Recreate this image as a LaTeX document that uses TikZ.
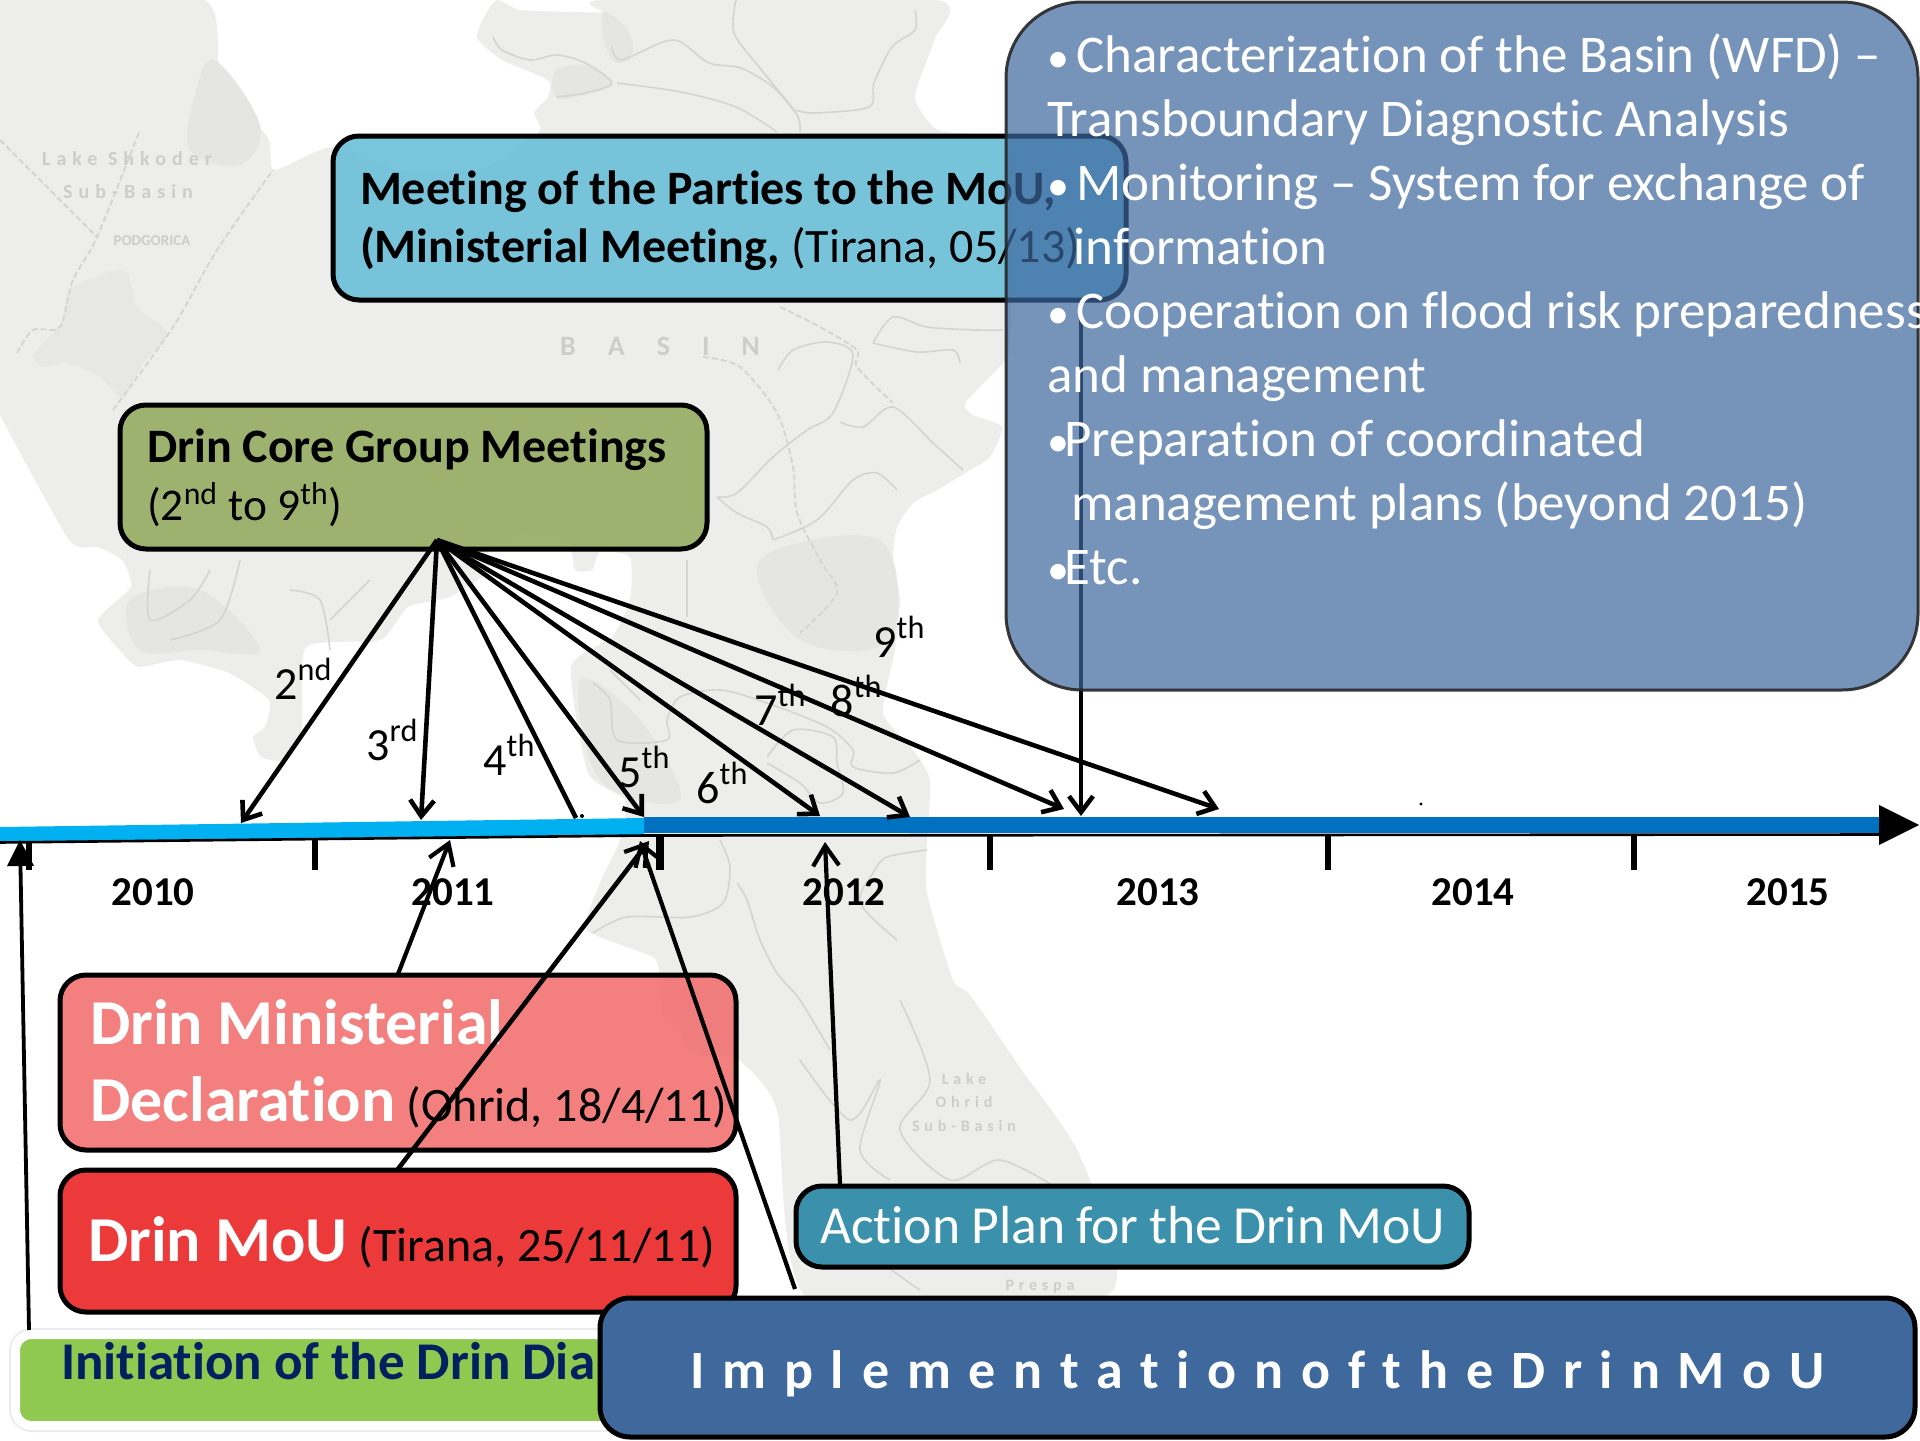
\documentclass[tikz,border=0pt]{standalone}
\usepackage{fontspec}
\setmainfont[Ligatures=CommonOff]{Carlito}
\newfontfamily\mapfont[LetterSpace=30,Ligatures=CommonOff]{Carlito}
\newfontfamily\implfont[LetterSpace=33,Ligatures=CommonOff]{Carlito}
\usetikzlibrary{arrows.meta,calc}
\definecolor{mapland}{HTML}{EDEDEC}
\definecolor{mapdark}{HTML}{E5E5E4}
\definecolor{maplake}{HTML}{E7E7E6}
\definecolor{mapline}{HTML}{D4D4D3}
\definecolor{maptext}{HTML}{CDCDCC}
\definecolor{tlight}{HTML}{00B0F0}
\definecolor{tdark}{HTML}{0070C0}
\definecolor{navy}{HTML}{002060}
\newcommand{\glossy}[4]{\pgfdeclareverticalshading{#1}{100bp}{color(0bp)=(#3); color(3bp)=(#2); color(90bp)=(#2); color(96bp)=(#4); color(100bp)=(#4)}}
\newcommand{\bul}{\makebox[8.5pt][l]{\fontsize{22pt}{32pt}\selectfont •}}
\newcommand{\topstrut}[1]{\rule{0pt}{#1}}
\newcommand{\botstrut}[1]{\rule[-#1]{0pt}{0pt}}
\definecolor{mB}{HTML}{6FC1D9}\definecolor{mD}{HTML}{5AA4BC}\definecolor{mL}{HTML}{8FD8EE}
\definecolor{cB}{HTML}{97AE66}\definecolor{cD}{HTML}{849A58}\definecolor{cL}{HTML}{B8CE8C}
\definecolor{dB}{HTML}{F27272}\definecolor{dD}{HTML}{DE6464}\definecolor{dL}{HTML}{FA9696}
\definecolor{rB}{HTML}{EC3A3B}\definecolor{rD}{HTML}{C92A2A}\definecolor{rL}{HTML}{F85A5A}
\definecolor{aB}{HTML}{3B91AB}\definecolor{aD}{HTML}{2F7A91}\definecolor{aL}{HTML}{62B7D2}
\definecolor{iB}{HTML}{3F689C}\definecolor{iD}{HTML}{345888}\definecolor{iL}{HTML}{5E88BC}
\definecolor{gB}{HTML}{8FC94F}\definecolor{gD}{HTML}{6FA038}\definecolor{gL}{HTML}{A2D866}
\glossy{mshade}{mB}{mD}{mL}
\glossy{cshade}{cB}{cD}{cL}
\glossy{dshade}{dB}{dD}{dL}
\glossy{rshade}{rB}{rD}{rL}
\glossy{ashade}{aB}{aD}{aL}
\glossy{ishade}{iB}{iD}{iL}
\glossy{gshade}{gB}{gD}{gL}
\tikzset{
  panel/.style={shade,draw=black,line width=2.5pt,rounded corners=13pt,inner sep=0pt,text opacity=1,align=flush left,anchor=center},
  yearlabel/.style={font=\fontsize{20.5pt}{24pt}\selectfont\bfseries,anchor=base,inner sep=0pt},
  ordlabel/.style={font=\fontsize{23pt}{26pt}\selectfont,anchor=base west,inner sep=0pt},
  maptxt/.style={font=\mapfont\fontsize{10pt}{12pt}\selectfont\bfseries,text=maptext,inner sep=0pt,anchor=base},
  smallmap/.style={maptxt,font=\mapfont\fontsize{8pt}{10pt}\selectfont\bfseries},
  river/.style={draw=mapline,line width=0.8pt},
  mapborder/.style={draw=mapline,line width=0.9pt,dash pattern=on 3pt off 1.5pt},
  coreline/.style={line width=2.3pt,draw=black,-{Straight Barb[length=8pt,width=12pt,line width=2.3pt]}},
  upline/.style={line width=2.1pt,draw=black,-{Straight Barb[length=10pt,width=13pt,line width=2.1pt]}},
  tick/.style={line width=3pt,draw=black},
}
\begin{document}
\begin{tikzpicture}[x=0.5pt,y=-0.5pt]
\useasboundingbox (0,0) rectangle (1920,1440);
\fill[white] (0,0) rectangle (1920,1440);
% map
\fill[mapland] plot[smooth,tension=0.35] coordinates {(0,0)(204,0)(220,80)(268,138)(274,170)(332,147)(400,170)(480,170)(539,132)(534,113)(548,97)(548,80)(502,60)(477,38)(484,17)(497,0)(520,10)(575,12)(603,12)(603,0)(936,0)(934,40)(915,97)(938,130)(1010,150)(1010,340)(1003,363)(965,403)(973,415)(1002,427)(990,457)(970,470)(937,490)(913,503)(897,527)(893,560)(900,600)(895,650)(883,713)(913,750)(930,780)(927,840)(927,893)(953,980)(970,995)(1021,1069)(1080,1156)(1109,1294)(810,1300)(777,1110)(739,1060)(667,1020)(660,980)(653,957)(587,930)(600,883)(620,840)(625,800)(588,773)(571,667)(612,637)(630,600)(630,557)(600,552)(592,570)(575,570)(570,548)(540,530)(490,548)(486,573)(449,597)(408,607)(380,640)(306,647)(302,727)(286,760)(261,757)(253,737)(265,727)(269,700)(229,673)(180,660)(139,667)(122,653)(98,620)(131,587)(122,560)(98,547)(69,540)(0,415)} -- cycle;
\fill[mapdark] plot[smooth cycle,tension=0.6] coordinates {(604,12)(628,30)(632,56)(615,62)(604,40)};
\fill[mapdark] plot[smooth cycle,tension=0.6] coordinates {(556,70)(590,66)(612,84)(585,95)(556,97)};
\fill[mapdark] plot[smooth cycle,tension=0.6] coordinates {(215,60)(260,125)(240,165)(190,150)(195,95)};
\fill[mapdark] plot[smooth cycle,tension=0.6] coordinates {(130,600)(200,590)(260,650)(200,650)(140,650)};
\fill[mapdark] plot[smooth cycle,tension=0.6] coordinates {(580,680)(640,720)(680,800)(600,780)};
\fill[mapdark] plot[smooth cycle,tension=0.6] coordinates {(680,1000)(730,990)(735,1050)(690,1050)};
\fill[mapdark] plot[smooth cycle,tension=0.6] coordinates {(760,560)(880,540)(890,640)(800,640)};
\fill[maplake] plot[smooth cycle,tension=0.5] coordinates {(33,357)(43,343)(63,320)(70,290)(123,270)(137,307)(167,333)(143,363)(123,397)(100,377)(67,363)(43,367)};
\draw[mapborder] plot[smooth] coordinates {(113,410)(173,327)(217,250)(273,170)};
\draw[mapborder] plot[smooth] coordinates {(17,353)(33,330)(60,327)(73,280)(97,237)(140,130)};
\draw[mapborder] plot[smooth] coordinates {(0,140)(50,190)(97,237)};
\draw[mapborder] plot[smooth] coordinates {(703,357)(740,367)(777,413)(793,467)(797,513)(820,560)(837,593)(800,633)};
\draw[mapborder] plot[smooth] coordinates {(780,307)(820,327)(857,350)(857,367)(893,403)};
\draw[river] plot[smooth] coordinates {(736,0)(734,33)(759,67)(796,113)(800,132)};
\draw[river] plot[smooth] coordinates {(612,47)(621,60)(663,42)(681,42)(709,63)(741,68)(773,87)(796,113)};
\draw[river] plot[smooth] coordinates {(915,10)(915,30)(892,47)(874,83)(869,107)(814,113)(796,110)};
\draw[river] plot[smooth] coordinates {(617,83)(681,92)(736,107)(777,132)};
\draw[river] plot[smooth] coordinates {(493,37)(502,50)(530,60)(557,55)(585,63)(612,83)(585,93)(557,97)};
\draw[river] plot[smooth] coordinates {(778,370)(793,350)(827,342)(853,355)(833,413)(807,430)(773,457)(737,493)(717,497)};
\draw[river] plot[smooth] coordinates {(840,422)(863,427)(893,407)(933,443)(963,470)};
\draw[river] plot[smooth] coordinates {(773,540)(817,520)(853,480)(877,473)(897,490)};
\draw[river] plot[smooth] coordinates {(773,540)(767,527)(737,513)(717,497)};
\draw[river] plot[smooth] coordinates {(687,560)(687,617)};
\draw[river] plot[smooth] coordinates {(873,343)(893,317)(927,327)(977,330)(1003,330)};
\draw[river] plot[smooth] coordinates {(873,343)(917,352)(953,350)(960,363)};
\draw[river] plot[smooth] coordinates {(593,683)(610,700)(617,740)(667,740)(667,720)(680,697)(720,690)(767,703)(827,727)(853,750)(853,767)(893,773)(920,760)};
\draw[river] plot[smooth] coordinates {(767,757)(793,730)(833,737)(837,763)(843,793)(820,803)(800,783)(767,763)};
\draw[river] plot[smooth] coordinates {(720,840)(730,867)(723,903)(690,917)(627,917)(593,933)};
\draw[river] plot[smooth] coordinates {(737,883)(747,900)(760,940)(777,973)(800,1000)(830,1050)};
\draw[river] plot[smooth] coordinates {(927,850)(887,857)(873,873)(860,903)(897,940)};
\draw[river] plot[smooth] coordinates {(150,570)(150,620)(190,600)(210,570)};
\draw[river] plot[smooth] coordinates {(240,560)(220,620)(170,640)};
\draw[river] plot[smooth] coordinates {(290,590)(320,600)(330,650)};
\draw[river] plot[smooth] coordinates {(370,580)(330,620)};
\draw[river] plot[smooth] coordinates {(610,670)(640,700)};
\draw[river] plot[smooth] coordinates {(800,1060)(850,1120)(880,1080)(860,1150)(890,1180)};
\draw[river] plot[smooth] coordinates {(900,1000)(930,1080)(900,1130)(950,1180)(1000,1160)(1060,1190)};
\draw[river] plot[smooth] coordinates {(840,1210)(880,1260)(920,1290)};
\node[maptxt] (mp1) at (127,165) {Lake Shkoder};
\node[maptxt] (mp2) at (128,198) {Sub-Basin};
\node[maptxt,font=\fontsize{7.5pt}{8pt}\selectfont\bfseries] (mp3) at (152,245) {PODGORICA};
\node[maptxt,font=\fontsize{14pt}{16pt}\selectfont\bfseries] (mp4) at (660,355) {B\hspace{16pt}A\hspace{16pt}S\hspace{16pt}I\hspace{16pt}N};
\node[smallmap] (mp5) at (964,1084) {Lake};
\node[smallmap] (mp6) at (964,1107) {Ohrid};
\node[smallmap] (mp7) at (964,1131) {Sub-Basin};
\node[smallmap] (mp8) at (1040,1290) {Prespa};
% ordinal labels
\node[ordlabel] (o2) at (274,699) {2\textsuperscript{nd}};
\node[ordlabel] (o3) at (366,760) {3\textsuperscript{rd}};
\node[ordlabel] (o4) at (483,775) {4\textsuperscript{th}};
\node[ordlabel] (o5) at (618,787) {5\textsuperscript{th}};
\node[ordlabel] (o6) at (696,803) {6\textsuperscript{th}};
\node[ordlabel] (o7) at (754,725) {7\textsuperscript{th}};
\node[ordlabel] (o8) at (830,716) {8\textsuperscript{th}};
\node[ordlabel] (o9) at (873,657) {9\textsuperscript{th}};
% ticks
\draw[tick,line width=2.8pt] (29,827) -- (29,870);
\draw[tick] (315,840) -- (315,870);
\draw[tick,line width=3.6pt] (660,836) -- (660,870);
\draw[tick] (990,834) -- (990,870);
\draw[tick] (1328,834) -- (1328,870);
\draw[tick] (1634,834) -- (1634,870);
% timeline
\fill[tlight] (0,827) -- (644,818) -- (644,835) -- (0,842) -- cycle;
\fill[tdark] (644,817) rectangle (1900,833);
\fill[black] (1879,805) -- (1919,825) -- (1879,845) -- cycle;
\draw[black,line width=1.3pt] (0,842.5) -- (644,835.5) -- (1885,834.5);
\fill[black] (1421,804) circle (1.6);
\fill[black] (582,816) circle (2);
% years
\node[yearlabel] (y10) at (153,905) {2010};
\node[yearlabel] (y11) at (453,905) {2011};
\node[yearlabel] (y12) at (844,905) {2012};
\node[yearlabel] (y13) at (1158,905) {2013};
\node[yearlabel] (y14) at (1473,905) {2014};
\node[yearlabel] (y15) at (1788,905) {2015};
% panels
\node[panel,shading=mshade,fill opacity=.93,minimum width=396.5pt,minimum height=82pt,text width=369.5pt,font=\fontsize{24pt}{29pt}\selectfont] (meet) at (729.5,218) {\topstrut{30pt}\textbf{Meeting of the Parties to the MoU,}\\\textbf{(Ministerial Meeting,} (Tirana, 05/13)\botstrut{15pt}};
\node[panel,shading=cshade,fill opacity=.93,minimum width=293.5pt,minimum height=72pt,text width=266.5pt,font=\fontsize{24pt}{29pt}\selectfont] (core) at (413.5,477) {\topstrut{28pt}\textbf{Drin Core Group Meetings}\\\fontsize{22.7pt}{29pt}\selectfont(2\textsuperscript{nd} to 9\textsuperscript{th})\botstrut{14pt}};
\node[panel,shading=dshade,fill opacity=.9,minimum width=338pt,minimum height=87.5pt,text width=330pt,font=\fontsize{24pt}{38.5pt}\selectfont] (decl) at (398,1062.5) {\topstrut{32pt}\hspace*{11pt}{\fontsize{32pt}{38.5pt}\selectfont\textbf{\textcolor{white}{Drin Ministerial}}}\\\hspace*{11pt}{\fontsize{32pt}{38.5pt}\selectfont\textbf{\textcolor{white}{Declaration}}} (Ohrid, 18/4/11)\botstrut{12pt}};
\node[panel,shading=rshade,minimum width=338pt,minimum height=71pt,text width=330pt,font=\fontsize{24pt}{38pt}\selectfont] (mou) at (398,1241) {\topstrut{32pt}\hspace*{10pt}{\fontsize{32pt}{38pt}\selectfont\textbf{\textcolor{white}{Drin MoU}}} (Tirana, 25/11/11)\botstrut{12pt}};
\node[panel,shading=ashade,minimum width=336.5pt,minimum height=40.5pt,text width=312.5pt,text=white,font=\fontsize{26.8pt}{28pt}\selectfont] (act) at (1132.5,1226.5) {\topstrut{24pt}Action Plan for the Drin MoU\botstrut{7.5pt}};
\draw[draw=black!8,line width=7pt,rounded corners=8pt] (16,1335) rectangle (704,1425);
\node[panel,shading=gshade,draw=white,line width=4.5pt,rounded corners=8pt,minimum width=344.5pt,minimum height=45.5pt,text width=299pt,text=navy,font=\fontsize{26.5pt}{27pt}\selectfont\bfseries] (green) at (360,1380) {\topstrut{22pt}Initiation of the Drin Dia\botstrut{23pt}};
% connector ends
\coordinate (hub) at (437,540);
\coordinate (e2) at (241,823);
\coordinate (e3) at (421,820);
\coordinate (e4) at (576,818);
\coordinate (e5) at (644,817);
\coordinate (e6) at (820,816);
\coordinate (e7) at (910,817);
\coordinate (e8) at (1064,809);
\coordinate (e9) at (1219,809);
\coordinate (eV) at (1081,816);
\coordinate (sV) at (1081,300);
\coordinate (u1) at (20,840);
\coordinate (s1) at (29,1330);
\coordinate (u2) at (450,840);
\coordinate (s2) at (398,974);
\coordinate (u3) at (649,841);
\coordinate (s3) at (398,1169);
\coordinate (u4) at (640,841);
\coordinate (s4) at (795,1289);
\coordinate (u5) at (825,842);
\coordinate (s5) at (840,1184);
\draw[coreline] (hub) -- (e2);
\draw[coreline] (hub) -- (e3);
\draw[line width=2.3pt] (hub) -- (e4);
\draw[coreline] (hub) -- (e5);
\draw[coreline] (hub) -- (e6);
\draw[coreline] (hub) -- (e7);
\draw[coreline] (hub) -- (e8);
\draw[coreline] (hub) -- (e9);
\draw[coreline] (sV) -- (eV);
\draw[line width=1.9pt,-{Triangle[length=13pt,width=13pt]}] (s1) -- (u1);
\draw[upline] (s2) -- (u2);
\draw[upline,line width=2.3pt] (s3) -- (u3);
\draw[upline] (s4) -- (u4);
\draw[upline] (s5) -- (u5);
% top panels
\node[panel,shading=ishade,minimum width=657.5pt,minimum height=69.5pt,rounded corners=15pt,text width=640pt,align=center,text=white] (impl) at (1257.5,1367.5) {\implfont\fontsize{27pt}{30pt}\selectfont\bfseries\topstrut{30pt}Implementation \hspace{5.5pt}of \hspace{5.5pt}the \hspace{5.5pt}Drin \hspace{5.5pt}MoU\botstrut{9.5pt}};
\node[fill={rgb,255:red,60;green,102;blue,158},draw=black!85,draw opacity=.9,fill opacity=.7,line width=1.5pt,rounded corners=38pt,minimum width=456pt,minimum height=344pt,inner sep=0pt] (big) at (1462,346) {};
\node[anchor=north west,inner sep=0pt,align=flush left,text=white,font=\fontsize{26.5pt}{32pt}\selectfont] (bigtext) at (1047,33.5) {\bul\hspace*{6pt}Characterization of the Basin (WFD) –\\Transboundary Diagnostic Analysis\\\bul\hspace*{6pt}Monitoring – System for exchange of\\\hspace*{13pt}information\\\bul\hspace*{6pt}Cooperation on flood risk preparedness\\and management\\\bul Preparation of coordinated\\\hspace*{12pt}management plans (beyond 2015)\\\bul Etc.};
\end{tikzpicture}
\end{document}
